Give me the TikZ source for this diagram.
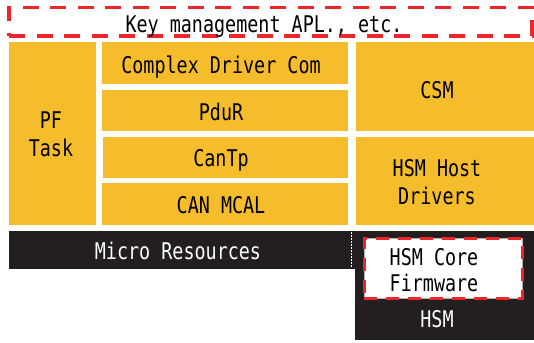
\documentclass[tikz,border=0pt]{standalone}
\usepackage{fontspec}
\setmainfont{DejaVu Sans Mono}[FakeStretch=0.80]
\usetikzlibrary{fit}
\definecolor{ayel}{RGB}{245,188,44}
\definecolor{ablk}{RGB}{35,31,32}
\definecolor{ared}{RGB}{236,38,42}
\begin{document}
\begin{tikzpicture}[x=1pt,y=-1pt,
  ybox/.style={fill=ayel, draw=none, inner sep=0pt, rectangle},
  kbox/.style={fill=ablk, draw=none, inner sep=0pt, rectangle},
  rdash/.style={draw=ared, line width=3.5pt, dash pattern=on 16pt off 11.5pt, inner sep=0pt, rectangle},
  lbl/.style={font=\fontsize{23}{27.8}\selectfont, inner sep=0pt, text=black},
  wlbl/.style={lbl, text=white},
]
\fill[white] (0,0) rectangle (534,342);
\useasboundingbox (0,0) rectangle (534,342);
% top dashed box
\node[rdash, fit={(9,7.5)(532,36)}] (apl) {};
\node[lbl, anchor=base] (aplT) at (264,32.3) {Key management APL., etc.};
% yellow blocks
\node[ybox, fit={(9,42.5)(95.5,225)}] (pf) {};
\node[lbl, align=center] (pfT) at (51,134.5) {PF\\Task};
\node[ybox, fit={(101.7,42.5)(348.3,84.3)}] (cdc) {};
\node[lbl, anchor=base] (cdcT) at (221,74) {Complex Driver Com};
\node[ybox, fit={(101.7,90)(348.3,131)}] (pdur) {};
\node[lbl, anchor=base] (pdurT) at (221,120.5) {PduR};
\node[ybox, fit={(103.3,136.7)(348,177.7)}] (cantp) {};
\node[lbl, anchor=base] (cantpT) at (221,166.7) {CanTp};
\node[ybox, fit={(101.7,183.3)(348,225)}] (mcal) {};
\node[lbl, anchor=base] (mcalT) at (221,213.3) {CAN MCAL};
\node[ybox, fit={(356,42.5)(534,131)}] (csm) {};
\node[lbl, anchor=base] (csmT) at (437,98.3) {CSM};
\node[ybox, fit={(356,136.7)(534,225)}] (hhd) {};
\node[lbl, align=center] (hhdT) at (437,182.5) {HSM Host\\Drivers};
% black blocks
\node[kbox, fit={(8.7,231)(356,269)}] (micro) {};
\node[wlbl, anchor=base] (microT) at (178,259.3) {Micro Resources};
\node[kbox, fit={(355.3,231)(534,340)}] (hsm) {};
\node[wlbl, anchor=base] (hsmT) at (437,327.3) {HSM};
\coordinate (dA) at (351.7,232);
\coordinate (dB) at (351.7,268);
\draw[white, line width=1.5pt, dash pattern=on 1.5pt off 1.5pt] (dA) -- (dB);
% HSM core firmware
\node[fill=white, draw=gray!60, line width=0.6pt, inner sep=0pt, rectangle, fit={(364.3,238.3)(522.7,298.3)}] (core) {};
\node[draw=ared, line width=3pt, dash pattern=on 13pt off 9pt, inner sep=0pt, rectangle, fit={(364.3,238.3)(522.7,298.3)}] (coreB) {};
\node[lbl, align=center, font=\fontsize{23}{26}\selectfont] (coreT) at (434,270.2) {HSM Core\\Firmware};
\end{tikzpicture}
\end{document}
